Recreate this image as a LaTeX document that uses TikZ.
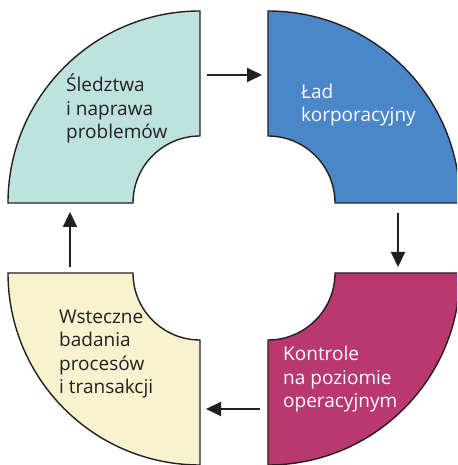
\documentclass[tikz,border=0pt]{standalone}
\usepackage{fontspec}
\setmainfont{Open Sans}
\usetikzlibrary{arrows.meta}
\definecolor{cteal}{HTML}{BEE3DF}
\definecolor{cblue}{HTML}{4A86C8}
\definecolor{cyellow}{HTML}{F8F2CF}
\definecolor{cmagenta}{HTML}{B8386F}
\definecolor{cink}{HTML}{231F20}
\tikzset{
  quarter/.style={draw=cink, line width=1.4pt, line join=miter},
  label/.style={inner sep=0pt, align=left, anchor=base west,
    font=\fontsize{19}{23.5}\selectfont},
  flow/.style={draw=cink, line width=2pt, -{Triangle[length=15pt,width=14pt]}}
}
\begin{document}
\begin{tikzpicture}[x=1pt,y=1pt]
\useasboundingbox (0,0) rectangle (457,465);
\clip (0,0) rectangle (457,465);
% top-left
\path[quarter, fill=cteal] (200,454) arc[start angle=90,end angle=180,radius=192]
  -- (133,262) arc[start angle=180,end angle=90,radius=67] -- cycle;
% top-right
\path[quarter, fill=cblue] (268,454) arc[start angle=90,end angle=0,radius=192]
  -- (335,262) arc[start angle=0,end angle=90,radius=67] -- cycle;
% bottom-left
\path[quarter, fill=cyellow] (8,192) arc[start angle=180,end angle=270,radius=192]
  -- (200,125) arc[start angle=270,end angle=180,radius=67] -- cycle;
% bottom-right
\path[quarter, fill=cmagenta] (460,192) arc[start angle=0,end angle=-90,radius=192]
  -- (268,125) arc[start angle=-90,end angle=0,radius=67] -- cycle;

\node[label, text=cink] (t1) at (66,326) {Śledztwa\\i naprawa\\problemów};
\node[label, text=white] (t2) at (301,343) {Ład\\korporacyjny};
\node[label, text=white] (t3) at (283,57) {Kontrole\\na poziomie\\operacyjnym};
\node[label, text=cink] (t4) at (59,71) {Wsteczne\\badania\\procesów\\i transakcji};

\coordinate (a1s) at (207,390); \coordinate (a1e) at (262,390);
\coordinate (a2s) at (398,252); \coordinate (a2e) at (398,198);
\coordinate (a3s) at (260,56);  \coordinate (a3e) at (206,56);
\coordinate (a4s) at (70,198);  \coordinate (a4e) at (70,253);
\draw[flow] (a1s) -- (a1e);
\draw[flow] (a2s) -- (a2e);
\draw[flow] (a3s) -- (a3e);
\draw[flow] (a4s) -- (a4e);
\end{tikzpicture}
\end{document}
